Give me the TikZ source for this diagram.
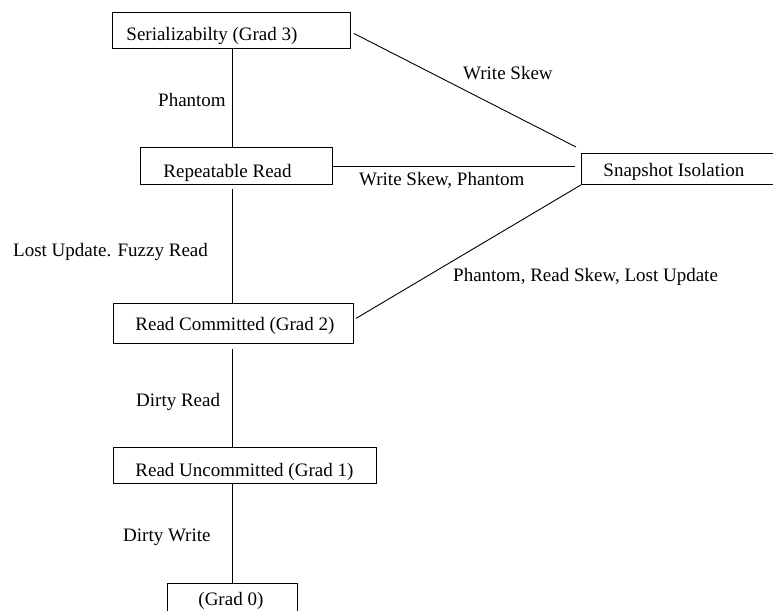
\documentclass[tikz,border=0pt]{standalone}
\usepackage{fontspec}
\setmainfont{Liberation Serif}
\usetikzlibrary{calc}
\begin{document}
\begin{tikzpicture}[x=1pt,y=-1pt,
  every node/.style={font=\fontsize{19}{22}\selectfont},
  level/.style={draw, line width=0.9pt, rectangle, inner ysep=0pt, align=flush left, anchor=north west},
  tag/.style={inner sep=0pt, anchor=base west},
  link/.style={line width=0.9pt}]
\useasboundingbox (0,0) rectangle (773,610);

% isolation levels
\node[level, inner xsep=14pt, text width=210pt, text height=28pt, text depth=8pt] (ser) at (112,12) {\mbox{Serializabilty (Grad 3)}};
\node[level, inner xsep=23pt, text width=146pt, text height=30pt, text depth=7pt] (rr) at (140,147) {\mbox{Repeatable Read}};
\node[level, inner xsep=22pt, text width=186pt, text height=23pt, text depth=8pt] (si) at (581,153) {\mbox{Snapshot Isolation}};
\node[level, inner xsep=22pt, text width=196pt, text height=27pt, text depth=13pt] (rc) at (113,303) {\mbox{Read Committed (Grad 2)}};
\node[level, inner xsep=22pt, text width=219pt, text height=29pt, text depth=7pt] (ru) at (113,447) {\mbox{Read Uncommitted (Grad 1)}};
\node[level, inner xsep=31pt, text width=68pt, text height=22pt, text depth=18pt] (g0) at (167,583) {\mbox{(Grad 0)}};

% vertical axis of the hierarchy
\coordinate (axis) at (232,0);

\draw[link] (ser.south -| axis) -- (rr.north -| axis);
\draw[link] ($(rr.south -| axis)+(0,4)$) -- (rc.north -| axis);
\draw[link] ($(rc.south -| axis)+(0,5)$) -- (ru.north -| axis);
\draw[link] (ru.south -| axis) -- (g0.north -| axis);

\draw[link] ($(ser.east)+(3,3)$) -- ($(si.north west)+(-5,-6)$);
\draw[link] (rr.east) -- ($(si.west |- rr.east)+(-6,0)$);
\draw[link] ($(rc.east)+(2,-5)$) -- (si.south west);

% anomalies separating the levels
\node[tag] (lphantom) at (158,106) {Phantom};
\node[tag] (lws) at (463,79) {Write Skew};
\node[tag] (lwsp) at (359,185) {Write Skew, Phantom};
\node[tag] (llu) at (13,256) {Lost Update. Fuzzy Read};
\node[tag] (lprs) at (453,281) {Phantom, Read Skew, Lost Update};
\node[tag] (ldr) at (136,406) {Dirty Read};
\node[tag] (ldw) at (123,541) {Dirty Write};
\end{tikzpicture}
\end{document}
